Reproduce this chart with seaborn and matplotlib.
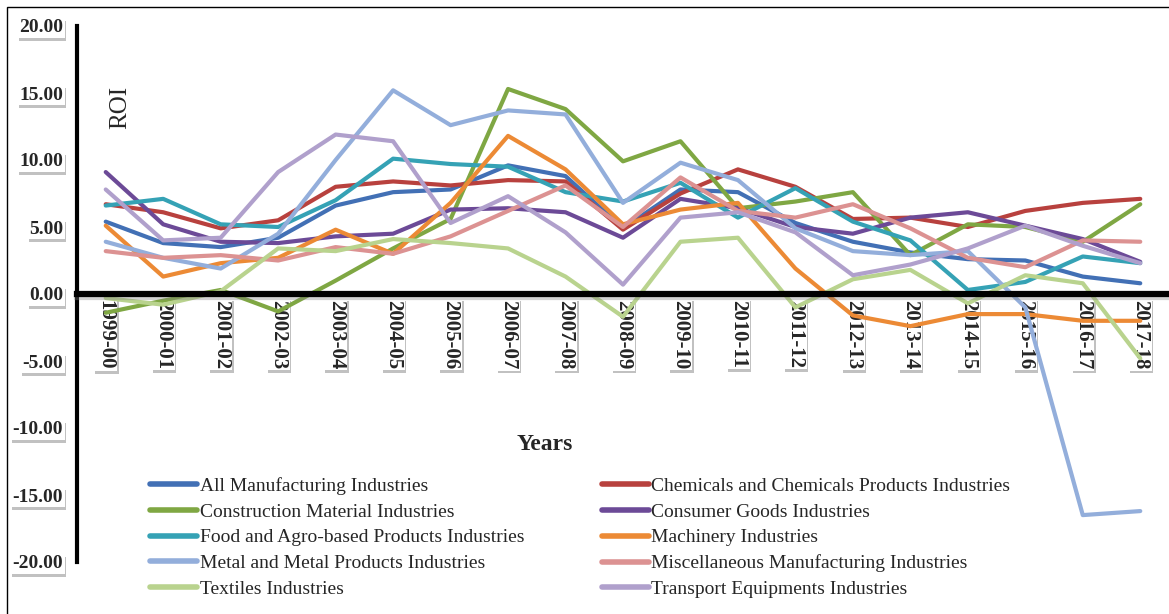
import matplotlib
matplotlib.use("Agg")
import matplotlib.pyplot as plt
import matplotlib.patheffects as pe
from matplotlib.lines import Line2D
from matplotlib.patches import Rectangle
import numpy as np
import pandas as pd
import seaborn as sns

years = ["1999-00", "2000-01", "2001-02", "2002-03", "2003-04", "2004-05", "2005-06",
         "2006-07", "2007-08", "2008-09", "2009-10", "2010-11", "2011-12", "2012-13",
         "2013-14", "2014-15", "2015-16", "2016-17", "2017-18"]

all_manufacturing = [5.4, 3.8, 3.5, 4.2, 6.6, 7.6, 7.8, 9.6, 8.8, 4.9, 7.8, 7.6, 5.3, 3.9, 3.1, 2.6, 2.5, 1.3, 0.8]
chemicals = [6.7, 6.1, 4.9, 5.5, 8.0, 8.4, 8.1, 8.5, 8.4, 4.8, 7.5, 9.3, 8.0, 5.6, 5.7, 5.0, 6.2, 6.8, 7.1]
construction = [-1.4, -0.5, 0.3, -1.3, 1.0, 3.4, 5.6, 15.3, 13.8, 9.9, 11.4, 6.4, 6.9, 7.6, 2.9, 5.2, 5.0, 3.9, 6.7]
consumer_goods = [9.1, 5.2, 3.9, 3.8, 4.3, 4.5, 6.3, 6.4, 6.1, 4.2, 7.1, 6.4, 5.0, 4.5, 5.7, 6.1, 5.1, 4.1, 2.4]
food_agro = [6.6, 7.1, 5.2, 5.0, 7.0, 10.1, 9.7, 9.5, 7.6, 6.9, 8.3, 5.7, 7.9, 5.4, 4.0, 0.3, 0.9, 2.8, 2.3]
machinery = [5.1, 1.3, 2.3, 2.7, 4.8, 3.0, 6.8, 11.8, 9.3, 5.2, 6.3, 6.8, 1.9, -1.6, -2.4, -1.5, -1.5, -2.0, -2.0]
metal = [3.9, 2.7, 1.9, 4.5, 10.0, 15.2, 12.6, 13.7, 13.4, 6.8, 9.8, 8.5, 4.9, 3.2, 2.9, 3.2, -1.0, -16.5, -16.2]
miscellaneous = [3.2, 2.7, 2.9, 2.5, 3.5, 3.0, 4.3, 6.2, 8.1, 5.0, 8.7, 6.2, 5.7, 6.7, 4.9, 2.7, 2.0, 4.0, 3.9]
textiles = [-0.3, -0.8, 0.2, 3.4, 3.2, 4.1, 3.8, 3.4, 1.3, -1.7, 3.9, 4.2, -1.0, 1.1, 1.8, -0.7, 1.4, 0.8, -4.8]
transport = [7.8, 4.0, 4.2, 9.1, 11.9, 11.4, 5.3, 7.3, 4.6, 0.7, 5.7, 6.1, 4.6, 1.4, 2.2, 3.4, 5.1, 3.6, 2.3]

industries = ["All Manufacturing Industries", "Chemicals and Chemicals Products Industries",
              "Construction Material Industries", "Consumer Goods Industries",
              "Food and Agro-based Products Industries", "Machinery Industries",
              "Metal and Metal Products Industries", "Miscellaneous Manufacturing Industries",
              "Textiles Industries", "Transport Equipments Industries"]
series = [all_manufacturing, chemicals, construction, consumer_goods, food_agro,
          machinery, metal, miscellaneous, textiles, transport]
colors = ["#4270B5", "#B8413E", "#7FA743", "#6C4A97", "#35A2B5",
          "#EC8A35", "#93AEDB", "#DC9292", "#B9D38E", "#B0A0CC"]

df = pd.concat(
    [pd.DataFrame({"Years": years, "ROI": vals, "Industry": name})
     for name, vals in zip(industries, series)],
    ignore_index=True,
)

sns.set_style("white")
plt.rcParams["font.family"] = ["Liberation Serif", "DejaVu Serif"]

W, H = 1169, 614
fig = plt.figure(figsize=(W / 100, H / 100), dpi=100)
ax = fig.add_axes([77 / W, 1 - 562 / H, 1 - 77 / W, (562 - 26) / H])

sns.lineplot(data=df, x="Years", y="ROI", hue="Industry", hue_order=industries,
             palette=dict(zip(industries, colors)), sort=False, linewidth=3,
             legend=False, ax=ax)

ax.set_xlim(-0.5, len(years) - 0.5)
ax.set_ylim(-20, 20)
yt = np.arange(-20, 21, 5)
ax.set_yticks(yt, [f"{v:.2f}" for v in yt])
ax.set_xticks(range(len(years)), years)
ax.set_xlabel("")
ax.set_ylabel("")

for s in ["top", "right"]:
    ax.spines[s].set_visible(False)
ax.spines["left"].set_linewidth(3)
ax.spines["left"].set_color("black")
ax.spines["bottom"].set_position(("data", 0))
ax.spines["bottom"].set_linewidth(4.5)
ax.spines["bottom"].set_color("black")
ax.spines["bottom"].set_path_effects([
    pe.SimpleLineShadow(offset=(0, -2.5), shadow_color="gray", alpha=0.35), pe.Normal()])

ax.tick_params(axis="both", length=0)
ax.tick_params(axis="y", pad=10, labelsize=14)
ax.tick_params(axis="x", pad=4, labelsize=15, rotation=270)

shadow = [pe.withSimplePatchShadow(offset=(1, -2), shadow_rgbFace="#777777", alpha=0.45)]
for lbl in ax.get_yticklabels() + ax.get_xticklabels():
    lbl.set_fontweight("bold")
    lbl.set_bbox(dict(facecolor="white", edgecolor="none", pad=1.2))
    lbl.get_bbox_patch().set_path_effects(shadow)

fig.text(120 / W, 1 - 107 / H, "ROI", rotation=90, ha="center", va="center", fontsize=18)
fig.text(545 / W, 1 - 445 / H, "Years", ha="center", va="center", fontsize=17,
         fontweight="bold")

# outer chart frame
fig.patches.append(Rectangle((7 / W, -0.1), 1.2, 1.1 - 7 / H, transform=fig.transFigure,
                             fill=False, edgecolor="black", linewidth=1))

# legend laid out row-wise like the original (left column / right column)
order = [0, 2, 4, 6, 8, 1, 3, 5, 7, 9]
handles = [Line2D([], [], color=colors[i], linewidth=4) for i in order]
labels = [industries[i] for i in order]
fig.legend(handles, labels, loc="upper left", bbox_to_anchor=(150 / W, 1 - 477 / H),
           ncol=2, frameon=False, fontsize=14, handlelength=2.4, handletextpad=0.15,
           labelspacing=0.42, columnspacing=4.0, borderaxespad=0, borderpad=0)

fig.savefig("out.png", dpi=100)
